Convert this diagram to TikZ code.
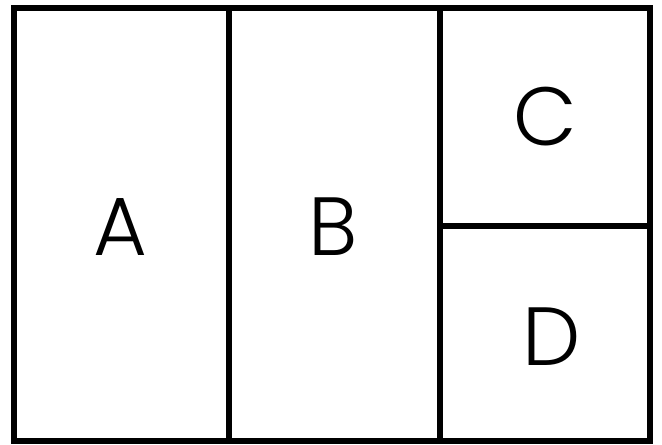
\documentclass[tikz,border=0pt]{standalone}
\usepackage{fontspec}
\setmainfont{Poppins Light}
\usepackage{tikz}
\tikzset{
  panel/.style={line width=2.9pt, line cap=rect},
  cellname/.style={font=\fontsize{47}{47}\selectfont, inner sep=0pt}
}

\begin{document}
\begin{tikzpicture}[x=0.02cm,y=-0.02cm]
\useasboundingbox (0,0) rectangle (662,445);
\draw[panel] (14,8) rectangle (650,441);
\draw[panel] (229,8) -- (229,441);
\draw[panel] (440,8) -- (440,441);
\draw[panel] (440,226) -- (650,226);
\node[cellname] (A) at (120,227) {A};
\node[cellname] (B) at (333,227) {B};
\node[cellname] (C) at (545,117) {C};
\node[cellname] (D) at (552,337) {D};
\end{tikzpicture}
\end{document}
